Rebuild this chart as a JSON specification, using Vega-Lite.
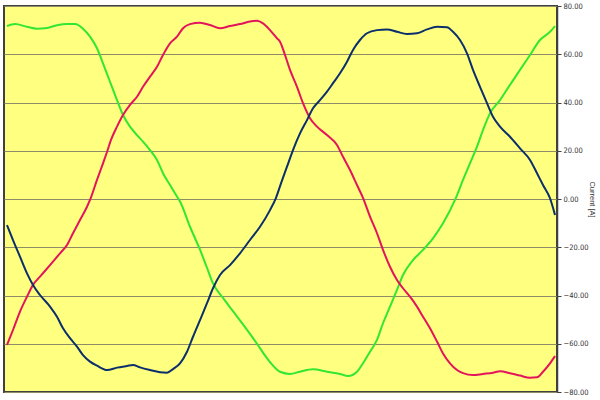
{
  "$schema": "https://vega.github.io/schema/vega-lite/v6.json",
  "width": 553,
  "height": 386,
  "autosize": {"type": "none"},
  "padding": {"left": 4, "top": 6, "right": 43, "bottom": 8},
  "background": "white",
  "config": {
    "view": {"fill": "#ffff80", "stroke": "#404040", "strokeWidth": 2}
  },
  "data": {
    "values": [
      {"t":7,"p":"G","i":71.7},{"t":15,"p":"G","i":72.5},{"t":27,"p":"G","i":71.4},{"t":37,"p":"G","i":70.6},{"t":47,"p":"G","i":70.9},{"t":57,"p":"G","i":72.0},{"t":67,"p":"G","i":72.5},{"t":75,"p":"G","i":72.5},{"t":83,"p":"G","i":70.6},{"t":90,"p":"G","i":67.3},{"t":97,"p":"G","i":62.5},{"t":103,"p":"G","i":56.2},{"t":110,"p":"G","i":48.6},{"t":117,"p":"G","i":41.0},{"t":123,"p":"G","i":34.8},{"t":130,"p":"G","i":30.0},{"t":137,"p":"G","i":26.5},{"t":143,"p":"G","i":23.8},{"t":150,"p":"G","i":20.3},{"t":157,"p":"G","i":16.2},{"t":163,"p":"G","i":10.7},{"t":170,"p":"G","i":5.8},{"t":177,"p":"G","i":1.0},{"t":180,"p":"G","i":-1.0},{"t":190,"p":"G","i":-11.5},{"t":200,"p":"G","i":-21.0},{"t":207,"p":"G","i":-28.5},{"t":213,"p":"G","i":-35.0},{"t":223,"p":"G","i":-41.0},{"t":233,"p":"G","i":-46.5},{"t":243,"p":"G","i":-52.0},{"t":257,"p":"G","i":-60.0},{"t":267,"p":"G","i":-66.0},{"t":280,"p":"G","i":-71.6},{"t":290,"p":"G","i":-72.5},{"t":300,"p":"G","i":-71.6},{"t":313,"p":"G","i":-70.6},{"t":327,"p":"G","i":-71.6},{"t":340,"p":"G","i":-72.5},{"t":348,"p":"G","i":-73.4},{"t":357,"p":"G","i":-71.6},{"t":363,"p":"G","i":-68.1},{"t":370,"p":"G","i":-63.3},{"t":377,"p":"G","i":-58.4},{"t":383,"p":"G","i":-51.5},{"t":390,"p":"G","i":-44.6},{"t":397,"p":"G","i":-37.7},{"t":403,"p":"G","i":-31.5},{"t":413,"p":"G","i":-25.3},{"t":423,"p":"G","i":-21.1},{"t":433,"p":"G","i":-16.3},{"t":443,"p":"G","i":-10.1},{"t":455,"p":"G","i":-0.4},{"t":463,"p":"G","i":7.9},{"t":470,"p":"G","i":14.8},{"t":477,"p":"G","i":21.7},{"t":483,"p":"G","i":28.6},{"t":490,"p":"G","i":35.5},{"t":500,"p":"G","i":41.0},{"t":510,"p":"G","i":47.3},{"t":520,"p":"G","i":53.5},{"t":530,"p":"G","i":59.7},{"t":540,"p":"G","i":65.9},{"t":550,"p":"G","i":69.3},{"t":555,"p":"G","i":71.7},

      {"t":7,"p":"R","i":-60.5},{"t":13,"p":"R","i":-54.3},{"t":20,"p":"R","i":-46.7},{"t":27,"p":"R","i":-40.5},{"t":33,"p":"R","i":-35.6},{"t":40,"p":"R","i":-32.2},{"t":50,"p":"R","i":-27.4},{"t":60,"p":"R","i":-22.5},{"t":67,"p":"R","i":-19.1},{"t":73,"p":"R","i":-14.2},{"t":80,"p":"R","i":-8.7},{"t":87,"p":"R","i":-3.2},{"t":90,"p":"R","i":-0.4},{"t":97,"p":"R","i":7.9},{"t":103,"p":"R","i":14.8},{"t":107,"p":"R","i":19.5},{"t":111,"p":"R","i":24.5},{"t":117,"p":"R","i":30.0},{"t":123,"p":"R","i":34.8},{"t":130,"p":"R","i":39.0},{"t":137,"p":"R","i":42.4},{"t":143,"p":"R","i":46.5},{"t":150,"p":"R","i":50.7},{"t":157,"p":"R","i":54.8},{"t":163,"p":"R","i":59.7},{"t":170,"p":"R","i":64.5},{"t":177,"p":"R","i":67.3},{"t":183,"p":"R","i":70.8},{"t":190,"p":"R","i":72.5},{"t":200,"p":"R","i":73.1},{"t":210,"p":"R","i":72.1},{"t":220,"p":"R","i":70.8},{"t":230,"p":"R","i":71.7},{"t":240,"p":"R","i":72.5},{"t":250,"p":"R","i":73.6},{"t":257,"p":"R","i":73.9},{"t":263,"p":"R","i":72.8},{"t":270,"p":"R","i":70.0},{"t":277,"p":"R","i":66.6},{"t":280,"p":"R","i":65.2},{"t":285,"p":"R","i":59.7},{"t":290,"p":"R","i":53.5},{"t":297,"p":"R","i":46.5},{"t":303,"p":"R","i":39.7},{"t":310,"p":"R","i":33.5},{"t":317,"p":"R","i":30.0},{"t":327,"p":"R","i":26.5},{"t":337,"p":"R","i":22.4},{"t":343,"p":"R","i":17.5},{"t":350,"p":"R","i":12.0},{"t":357,"p":"R","i":5.8},{"t":363,"p":"R","i":0.5},{"t":370,"p":"R","i":-7.3},{"t":377,"p":"R","i":-14.2},{"t":383,"p":"R","i":-21.1},{"t":390,"p":"R","i":-28.1},{"t":397,"p":"R","i":-33.6},{"t":403,"p":"R","i":-37.0},{"t":410,"p":"R","i":-40.5},{"t":417,"p":"R","i":-44.6},{"t":423,"p":"R","i":-48.8},{"t":430,"p":"R","i":-53.6},{"t":437,"p":"R","i":-59.1},{"t":443,"p":"R","i":-64.0},{"t":450,"p":"R","i":-68.1},{"t":457,"p":"R","i":-70.9},{"t":463,"p":"R","i":-72.2},{"t":473,"p":"R","i":-73.0},{"t":483,"p":"R","i":-72.5},{"t":493,"p":"R","i":-72.0},{"t":500,"p":"R","i":-71.4},{"t":510,"p":"R","i":-72.2},{"t":520,"p":"R","i":-73.2},{"t":530,"p":"R","i":-74.1},{"t":537,"p":"R","i":-73.9},{"t":543,"p":"R","i":-71.6},{"t":550,"p":"R","i":-68.1},{"t":555,"p":"R","i":-65.1},

      {"t":7,"p":"B","i":-10.8},{"t":13,"p":"B","i":-17.0},{"t":20,"p":"B","i":-23.9},{"t":27,"p":"B","i":-30.8},{"t":33,"p":"B","i":-35.6},{"t":40,"p":"B","i":-39.8},{"t":50,"p":"B","i":-44.6},{"t":57,"p":"B","i":-48.8},{"t":63,"p":"B","i":-53.6},{"t":70,"p":"B","i":-57.7},{"t":77,"p":"B","i":-61.2},{"t":83,"p":"B","i":-64.7},{"t":90,"p":"B","i":-67.4},{"t":97,"p":"B","i":-69.1},{"t":107,"p":"B","i":-70.9},{"t":117,"p":"B","i":-69.9},{"t":127,"p":"B","i":-69.2},{"t":133,"p":"B","i":-68.8},{"t":140,"p":"B","i":-69.8},{"t":150,"p":"B","i":-70.9},{"t":160,"p":"B","i":-71.8},{"t":167,"p":"B","i":-72.0},{"t":173,"p":"B","i":-70.5},{"t":180,"p":"B","i":-68.1},{"t":187,"p":"B","i":-63.3},{"t":193,"p":"B","i":-57.1},{"t":200,"p":"B","i":-50.2},{"t":207,"p":"B","i":-43.2},{"t":213,"p":"B","i":-37.0},{"t":220,"p":"B","i":-31.5},{"t":230,"p":"B","i":-27.4},{"t":240,"p":"B","i":-22.5},{"t":250,"p":"B","i":-17.0},{"t":260,"p":"B","i":-11.5},{"t":270,"p":"B","i":-4.6},{"t":276,"p":"B","i":0.5},{"t":281,"p":"B","i":6.5},{"t":287,"p":"B","i":13.4},{"t":293,"p":"B","i":20.3},{"t":300,"p":"B","i":27.2},{"t":307,"p":"B","i":32.7},{"t":313,"p":"B","i":37.6},{"t":320,"p":"B","i":41.0},{"t":327,"p":"B","i":44.5},{"t":333,"p":"B","i":48.0},{"t":340,"p":"B","i":52.1},{"t":347,"p":"B","i":56.9},{"t":353,"p":"B","i":61.8},{"t":360,"p":"B","i":65.9},{"t":367,"p":"B","i":68.7},{"t":377,"p":"B","i":70.0},{"t":387,"p":"B","i":70.3},{"t":397,"p":"B","i":69.3},{"t":407,"p":"B","i":68.4},{"t":417,"p":"B","i":68.7},{"t":427,"p":"B","i":70.3},{"t":437,"p":"B","i":71.4},{"t":447,"p":"B","i":71.2},{"t":453,"p":"B","i":69.3},{"t":460,"p":"B","i":65.9},{"t":467,"p":"B","i":60.4},{"t":473,"p":"B","i":53.5},{"t":480,"p":"B","i":46.5},{"t":487,"p":"B","i":39.7},{"t":493,"p":"B","i":34.1},{"t":500,"p":"B","i":30.0},{"t":510,"p":"B","i":25.8},{"t":520,"p":"B","i":21.0},{"t":530,"p":"B","i":16.2},{"t":537,"p":"B","i":10.7},{"t":543,"p":"B","i":5.8},{"t":550,"p":"B","i":0.3},{"t":555,"p":"B","i":-6.6}
    ]
  },
  "mark": {"type": "line", "strokeWidth": 2, "interpolate": "monotone", "clip": true},
  "encoding": {
    "x": {"field": "t", "type": "quantitative", "scale": {"domain": [4, 557], "nice": false, "zero": false}, "axis": null},
    "y": {
      "field": "i", "type": "quantitative",
      "scale": {"domain": [-80, 80], "nice": false, "zero": false},
      "axis": {
        "orient": "right",
        "values": [-80, -60, -40, -20, 0, 20, 40, 60, 80],
        "format": ".2f",
        "title": "Current [A]",
        "titleFont": "Liberation Sans",
        "titleFontSize": 7.5,
        "titleFontWeight": "normal",
        "titleColor": "#333333",
        "titlePadding": 0,
        "labelFont": "DejaVu Sans Condensed, Liberation Sans Narrow, Liberation Sans",
        "labelFontSize": 7.5,
        "labelColor": "#333333",
        "labelPadding": 2,
        "domainColor": "#404040",
        "domainWidth": 1.5,
        "tickColor": "#404040",
        "tickSize": 4,
        "grid": true,
        "gridColor": "#8f8c68",
        "gridWidth": 1.2
      }
    },
    "color": {
      "field": "p", "type": "nominal",
      "scale": {"domain": ["G", "R", "B"], "range": ["#33e633", "#e3145c", "#0c2f6c"]},
      "legend": null
    },
    "detail": {"field": "p"}
  }
}
